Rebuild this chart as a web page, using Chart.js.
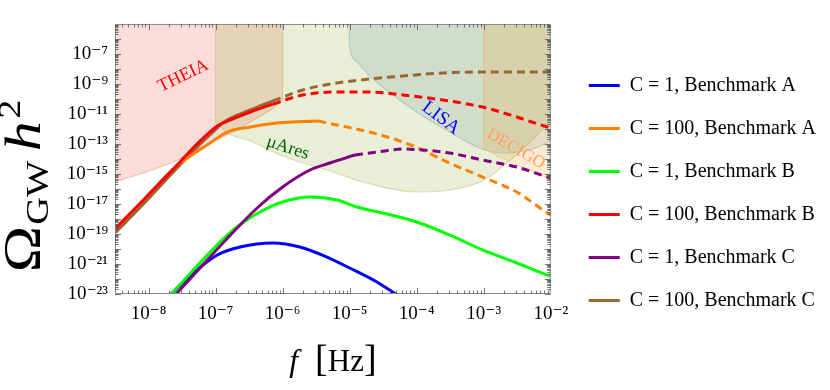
<!DOCTYPE html>
<html>
<head>
<meta charset="utf-8">
<script src="https://cdn.jsdelivr.net/npm/chart.js"></script>
<style>
  html, body { margin: 0; padding: 0; background: #fff; }
  canvas { display: block; }
</style>
</head>
<body>
<canvas id="chart" width="830" height="390"></canvas>
<script>
// Omega_GW h^2 against f [Hz]

// C = 1, Benchmark A (blue)
const fA1 = [2.1e-8, 4.66e-8, 1.06e-7, 2.33e-7, 7.2e-7, 1.8e-6, 4.6e-6, 1.0e-5, 2.55e-5, 5.1e-5];
const oA1 = [8.6e-24, 2.5e-22, 4e-21, 1.36e-20, 2.5e-20, 1.36e-20, 2.9e-21, 5.4e-22, 6.3e-23, 8.6e-24];

// C = 100, Benchmark A (orange): solid, then dashed
const fA100 = [3.16e-9, 8.4e-9, 2.5e-8, 4.2e-8, 8.3e-8, 1.49e-7, 3.3e-7, 8.3e-7, 3.4e-6];
const oA100 = [2.15e-19, 1.85e-17, 2.9e-15, 1.6e-14, 1.17e-13, 6.3e-13, 1.36e-12, 2.5e-12, 3.4e-12];
const fA100d = [3.4e-6, 6.5e-6, 2.0e-5, 6.2e-5, 1.23e-4, 2.44e-4, 9.6e-4, 3.1e-3, 8.9e-3, 1e-2];
const oA100d = [3.4e-12, 1.85e-12, 6.3e-13, 1.36e-13, 4e-14, 8.6e-15, 6.3e-16, 6.3e-17, 2.5e-18, 1.85e-18];

// C = 1, Benchmark B (green)
const fB1 = [2.1e-8, 1.83e-7, 4.6e-7, 1.0e-6, 2.56e-6, 6.5e-6, 1.29e-5, 3.1e-5, 1.0e-4, 3.1e-4, 9.6e-4, 3.1e-3, 8.9e-3, 1e-2];
const oB1 = [8.6e-24, 1.85e-19, 2.9e-18, 1.36e-17, 2.9e-17, 1.85e-17, 6.3e-18, 2.5e-18, 6.3e-19, 8.6e-20, 8.6e-21, 1.17e-21, 1.85e-22, 1.6e-22];

// C = 100, Benchmark B (red)
const fB100 = [3.16e-9, 8.4e-9, 2.5e-8, 5.9e-8, 1.06e-7, 1.39e-7, 3.3e-7, 7.2e-7];
const oB100 = [2.15e-19, 1.85e-17, 2.9e-15, 1.6e-13, 1.6e-12, 2.9e-12, 1.36e-11, 4.6e-11];
const fB100d = [7.2e-7, 2.0e-6, 6.5e-6, 2.0e-5, 6.2e-5, 2.44e-4, 9.6e-4, 3.1e-3, 8.9e-3, 1e-2];
const oB100d = [4.6e-11, 1.85e-10, 2.9e-10, 2.9e-10, 1.85e-10, 8.6e-11, 2.9e-11, 6.3e-12, 1.36e-12, 1.17e-12];

// C = 1, Benchmark C (purple)
const fC1 = [2.5e-8, 4.17e-7, 1.0e-6, 2.56e-6, 5.1e-6, 1.2e-5];
const oC1 = [8.6e-24, 5.4e-18, 1.36e-16, 1.85e-15, 5.4e-15, 1.85e-14];
const fC1d = [1.2e-5, 2.55e-5, 6.2e-5, 1.23e-4, 3.1e-4, 9.6e-4, 3.1e-3, 8.9e-3, 1e-2];
const oC1d = [1.85e-14, 2.9e-14, 4.6e-14, 4e-14, 2.5e-14, 8.6e-15, 2.9e-15, 6.3e-16, 5.4e-16];

// C = 100, Benchmark C (brown)
const fC100 = [3.16e-9, 8.4e-9, 2.5e-8, 5.9e-8, 1.06e-7, 1.26e-7, 3.3e-7, 7.2e-7];
const oC100 = [1.17e-19, 1e-17, 1.85e-15, 1e-13, 1.17e-12, 2.5e-12, 1.85e-11, 7.4e-11];
const fC100d = [7.2e-7, 2.0e-6, 6.5e-6, 2.0e-5, 6.2e-5, 2.44e-4, 9.6e-4, 8.9e-3, 1e-2];
const oC100d = [7.4e-11, 4e-10, 1.17e-9, 2.15e-9, 3.4e-9, 5.4e-9, 6.3e-9, 6.3e-9, 6.3e-9];

// detector sensitivity regions (filled up to the top)
const fTheia = [3.0e-9, 8.4e-9, 2.7e-8, 4.66e-8, 1.02e-7, 1.96e-7, 4.17e-7, 8.3e-7, 1e-6, 1e-6];
const oTheia = [2.9e-16, 1.17e-15, 8.6e-15, 3.4e-14, 1.85e-13, 7.4e-13, 5.4e-12, 4e-11, 8.6e-11, 1e-5];
const fMuAres = [1e-7, 1e-7, 1.49e-7, 3.3e-7, 9.2e-7, 1.8e-6, 4.6e-6, 1.8e-5, 1e-4, 3.1e-4, 9.6e-4, 2.2e-3, 5.3e-3, 8.9e-3, 1e-2];
const oMuAres = [1e-5, 2.5e-12, 5.4e-13, 1.6e-13, 1.85e-14, 6.3e-15, 1.85e-15, 2.5e-16, 6.3e-17, 8.6e-17, 3.4e-16, 5.4e-15, 1.85e-13, 2.5e-12, 5.4e-12];
const fLisa = [9.8e-6, 1.0e-5, 1.2e-5, 2.0e-5, 3.1e-5, 1e-4, 3.1e-4, 8.7e-4, 1.9e-3, 5.3e-3, 1e-2];
const oLisa = [1e-5, 4e-7, 4e-8, 3.4e-9, 6.3e-10, 1.36e-11, 6.3e-13, 5.4e-14, 2.5e-14, 4.6e-14, 1.6e-13];
const fDecigo = [1e-3, 1e-3, 1.7e-3, 3.4e-3, 6.8e-3, 1e-2];
const oDecigo = [1e-5, 4e-14, 1.36e-14, 3.4e-15, 1e-15, 4e-16];

// detector names and where they sit
const detNames = ['THEIA', 'μAres', 'LISA', 'DECIGO'];
const detF = [3.3e-8, 1.2e-6, 2.3e-4, 3e-3];
const detO = [3.4e-9, 5.4e-14, 5.4e-12, 4.6e-14];
const detAngle = [-26, 18, 37, 30];
const detColor = ['#ff0000', '#006400', '#0000ff', '#ffa060'];
const detSize = [18, 18, 19, 17];

// axis ticks
const xTicks = [1e-8, 1e-7, 1e-6, 1e-5, 1e-4, 1e-3, 1e-2];
const yTicks = [1e-23, 1e-22, 1e-21, 1e-20, 1e-19, 1e-18, 1e-17, 1e-16, 1e-15, 1e-14,
                1e-13, 1e-12, 1e-11, 1e-10, 1e-9, 1e-8, 1e-7, 1e-6, 1e-5];
const yLabelled = [-23, -21, -19, -17, -15, -13, -11, -9, -7];

const SERIF = '"Liberation Serif", "DejaVu Serif", serif';
const sup = { '-': '⁻', '0': '⁰', '1': '¹', '2': '²', '3': '³', '4': '⁴', '5': '⁵', '6': '⁶', '7': '⁷', '8': '⁸', '9': '⁹' };
const expOf = v => Math.round(Math.log10(v));
const pow10 = e => '10' + String(e).split('').map(c => sup[c]).join('');
const pts = (f, o) => f.map((x, i) => ({ x: x, y: o[i] }));

function curve(label, f, o, color, order, rank, dashed) {
  return {
    label: label, data: pts(f, o),
    borderColor: color, backgroundColor: color, borderWidth: 3,
    borderDash: dashed ? [8, 5] : [],
    pointRadius: 0, pointStyle: 'line', fill: false,
    cubicInterpolationMode: 'monotone', clip: 0,
    order: order, inLegend: !dashed, rank: rank
  };
}
function region(label, f, o, rgb, alpha, order) {
  return {
    label: label, data: pts(f, o),
    borderColor: 'rgba(' + rgb + ',' + (alpha + 0.12) + ')', backgroundColor: 'rgba(' + rgb + ',' + alpha + ')',
    borderWidth: 1.2, pointRadius: 0, fill: 'end',
    cubicInterpolationMode: 'monotone', clip: 0, order: order, inLegend: false
  };
}

const datasets = [
  region('THEIA', fTheia, oTheia, '240,110,90', 0.24, 23),
  region('muAres', fMuAres, oMuAres, '150,180,70', 0.22, 22),
  region('LISA', fLisa, oLisa, '90,130,150', 0.16, 21),
  region('DECIGO', fDecigo, oDecigo, '240,170,60', 0.22, 20),
  curve('C = 1, Benchmark A', fA1, oA1, '#0000ff', 4, 0, false),
  curve('C = 100, Benchmark A', fA100, oA100, '#ff8000', 5, 1, false),
  curve('', fA100d, oA100d, '#ff8000', 5, 1, true),
  curve('C = 1, Benchmark B', fB1, oB1, '#00ff00', 3, 2, false),
  curve('C = 100, Benchmark B', fB100, oB100, '#ff0000', 1, 3, false),
  curve('', fB100d, oB100d, '#ff0000', 1, 3, true),
  curve('C = 1, Benchmark C', fC1, oC1, '#800080', 2, 4, false),
  curve('', fC1d, oC1d, '#800080', 2, 4, true),
  curve('C = 100, Benchmark C', fC100, oC100, '#996633', 6, 5, false),
  curve('', fC100d, oC100d, '#996633', 6, 5, true)
];

// text laid out piece by piece (italic letters, sub/superscripts)
function measure(ctx, pieces) {
  let w = 0;
  pieces.forEach(p => { ctx.font = p.font; p.w = ctx.measureText(p.t).width; w += (p.gap || 0) + p.w; });
  return w;
}
function drawPieces(ctx, pieces, x0) {
  let cx = x0;
  pieces.forEach(p => { cx += p.gap || 0; ctx.font = p.font; ctx.fillText(p.t, cx, p.dy || 0); cx += p.w; });
}

const decorations = {
  id: 'decorations',
  afterDatasetsDraw(chart) {
    const { ctx, chartArea: a, scales: { x, y } } = chart;
    ctx.save();
    ctx.beginPath();
    ctx.rect(a.left, a.top, a.width, a.height);
    ctx.clip();
    ctx.textAlign = 'center';
    ctx.textBaseline = 'middle';
    detNames.forEach((name, i) => {
      ctx.save();
      ctx.translate(x.getPixelForValue(detF[i]), y.getPixelForValue(detO[i]));
      ctx.rotate(detAngle[i] * Math.PI / 180);
      ctx.fillStyle = detColor[i];
      ctx.font = detSize[i] + 'px ' + SERIF;
      ctx.fillText(name, 0, 0);
      ctx.restore();
    });
    ctx.restore();
  },
  afterDraw(chart) {
    const { ctx, chartArea: a, scales: { x, y } } = chart;
    ctx.save();
    // frame
    ctx.strokeStyle = '#8c8c8c';
    ctx.lineWidth = 1;
    ctx.strokeRect(a.left + 0.5, a.top + 0.5, a.width - 1, a.height - 1);
    // inward ticks on all four sides
    ctx.strokeStyle = '#555';
    ctx.lineWidth = 0.8;
    ctx.beginPath();
    for (let e = -9; e <= -3; e++) {
      for (let m = 1; m <= 9; m++) {
        const v = m * Math.pow(10, e);
        if (v < x.min * 0.999 || v > x.max * 1.001) continue;
        const px = Math.round(x.getPixelForValue(v)) + 0.5;
        const len = m === 1 ? 6 : 3.5;
        ctx.moveTo(px, a.bottom); ctx.lineTo(px, a.bottom - len);
        ctx.moveTo(px, a.top); ctx.lineTo(px, a.top + len);
      }
    }
    for (let e = -24; e <= -6; e++) {
      for (let m = 1; m <= 9; m++) {
        const v = m * Math.pow(10, e);
        if (v < y.min * 0.999 || v > y.max * 1.001) continue;
        const py = Math.round(y.getPixelForValue(v)) + 0.5;
        const len = m === 1 ? 6 : 3.5;
        ctx.moveTo(a.left, py); ctx.lineTo(a.left + len, py);
        ctx.moveTo(a.right, py); ctx.lineTo(a.right - len, py);
      }
    }
    ctx.stroke();

    // axis titles
    ctx.fillStyle = '#000';
    ctx.textAlign = 'left';
    ctx.textBaseline = 'alphabetic';
    const xt = [
      { t: 'f', font: 'italic 32px ' + SERIF },
      { t: '[', font: '38px ' + SERIF, gap: 17 },
      { t: 'Hz', font: '31px ' + SERIF },
      { t: ']', font: '38px ' + SERIF }
    ];
    const xw = measure(ctx, xt);
    ctx.save();
    ctx.translate(0, 371);
    drawPieces(ctx, xt, (a.left + a.right) / 2 - xw / 2);
    ctx.restore();

    const yt = [
      { t: 'Ω', font: '52px ' + SERIF },
      { t: 'GW', font: '32px ' + SERIF, dy: 8, gap: 1 },
      { t: 'h', font: 'italic 50px ' + SERIF, gap: 8 },
      { t: '2', font: '32px ' + SERIF, dy: -20, gap: 2 }
    ];
    const yw = measure(ctx, yt);
    ctx.save();
    ctx.translate(40, 186);
    ctx.rotate(-Math.PI / 2);
    ctx.scale(1.2, 1);
    drawPieces(ctx, yt, -yw / 2);
    ctx.restore();
    ctx.restore();
  }
};

new Chart(document.getElementById('chart'), {
  type: 'line',
  data: { datasets: datasets },
  options: {
    responsive: false,
    animation: false,
    layout: { padding: { top: 24, right: 4, bottom: 28, left: 0 } },
    scales: {
      x: {
        type: 'logarithmic',
        min: Math.pow(10, -8.5), max: 1e-2,
        grid: { display: false, drawTicks: false },
        border: { display: false },
        afterBuildTicks: s => { s.ticks = xTicks.map(v => ({ value: v })); },
        afterFit: s => { s.height = 68; },
        ticks: {
          autoSkip: false, maxRotation: 0, padding: 9, color: '#000',
          font: { family: SERIF, size: 19 },
          callback: v => pow10(expOf(v))
        }
      },
      y: {
        type: 'logarithmic',
        min: 1e-23, max: 1e-5,
        grid: { display: false, drawTicks: false },
        border: { display: false },
        afterBuildTicks: s => { s.ticks = yTicks.map(v => ({ value: v })); },
        afterFit: s => { s.width = 115; },
        ticks: {
          autoSkip: false, padding: 7, color: '#000',
          font: { family: SERIF, size: 19 },
          callback: v => yLabelled.includes(expOf(v)) ? pow10(expOf(v)) : ''
        }
      },
      gap: {
        type: 'linear', position: 'right',
        grid: { display: false, drawTicks: false },
        border: { display: false },
        ticks: { display: false },
        afterFit: s => { s.width = 15; }
      }
    },
    plugins: {
      tooltip: { enabled: false },
      legend: {
        position: 'right',
        maxWidth: 320,
        labels: {
          usePointStyle: true, pointStyleWidth: 31, padding: 23,
          color: '#000', font: { family: SERIF, size: 20 },
          filter: (item, data) => data.datasets[item.datasetIndex].inLegend,
          sort: (a, b, data) => data.datasets[a.datasetIndex].rank - data.datasets[b.datasetIndex].rank
        }
      }
    }
  },
  plugins: [decorations]
});
</script>
</body>
</html>
